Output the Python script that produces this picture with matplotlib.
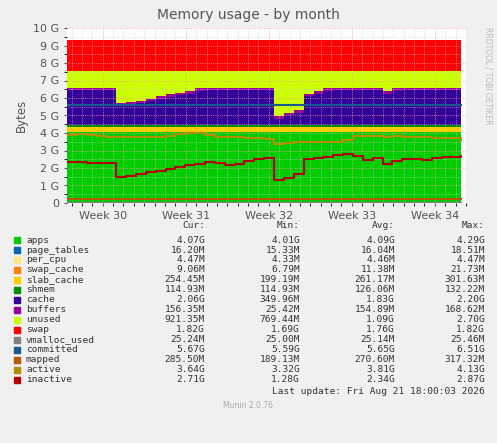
import matplotlib
matplotlib.use("Agg")
import matplotlib.pyplot as plt
import numpy as np

W, H = 497, 443
weeks = np.linspace(29.57, 34.32, 41)
cache_top = [6.6,6.6,6.6,6.6,6.6,5.7,5.75,5.85,5.95,6.1,6.2,6.3,6.4,6.55,6.6,6.6,6.6,6.6,6.6,6.6,6.6,
             4.95,5.15,5.3,6.25,6.4,6.55,6.6,6.6,6.6,6.6,6.6,6.4,6.55,6.6,6.6,6.6,6.6,6.6,6.6,6.6]
inactive = [2.35,2.35,2.3,2.3,2.3,1.5,1.55,1.65,1.75,1.85,1.95,2.05,2.15,2.25,2.35,2.3,2.15,2.25,2.4,2.5,2.55,
            1.3,1.45,1.65,2.5,2.55,2.65,2.75,2.8,2.7,2.45,2.55,2.25,2.4,2.5,2.5,2.45,2.55,2.6,2.6,2.7]
active = [3.9,3.95,3.9,3.85,3.8,3.8,3.8,3.8,3.8,3.8,3.85,3.95,4.0,4.0,3.9,3.8,3.75,3.8,3.7,3.7,3.65,
          3.4,3.45,3.5,3.5,3.5,3.5,3.5,3.6,3.85,3.85,3.85,3.8,3.85,3.8,3.8,3.75,3.7,3.7,3.7,3.6]
apps_v = 4.05
page_tables_v = 0.016
per_cpu_v = 0.004
swap_cache_v = 0.01
slab_v = 0.25
shmem_v = 0.115
buffers_v = 0.15
ram_total = 7.55
swap_v = 1.78
committed_v = 5.6
mapped_v = 0.25
vmalloc_v = 0.025

names = ["apps","page_tables","per_cpu","swap_cache","slab_cache","shmem","cache","buffers","unused","swap",
         "vmalloc_used","committed","mapped","active","inactive"]
colors = ["#00CC00","#0066B3","#FFE680","#FF8000","#FFCC00","#008F00","#330099","#990099","#CCFF00","#FF0000",
          "#808080","#1A5A90","#B35A00","#B38F00","#B30000"]
cur = ["4.07G","16.20M","4.47M","9.06M","254.45M","114.93M","2.06G","156.35M","921.35M","1.82G","25.24M","5.67G","285.50M","3.64G","2.71G"]
mn  = ["4.01G","15.33M","4.33M","6.79M","199.19M","114.93M","349.96M","25.42M","769.44M","1.69G","25.00M","5.59G","189.13M","3.32G","1.28G"]
avg = ["4.09G","16.04M","4.46M","11.38M","261.17M","126.06M","1.83G","154.89M","1.09G","1.76G","25.14M","5.65G","270.60M","3.81G","2.34G"]
mx  = ["4.29G","18.51M","4.47M","21.73M","301.63M","132.22M","2.20G","168.62M","2.70G","1.82G","25.46M","6.51G","317.32M","4.13G","2.87G"]

n = len(weeks)
ct = np.array(cache_top)
base_vals = [apps_v, page_tables_v, per_cpu_v, swap_cache_v, slab_v, shmem_v]
cache = ct - sum(base_vals) - buffers_v
layers = [np.full(n, v) for v in base_vals] + [cache, np.full(n, buffers_v), ram_total - ct, np.full(n, swap_v)]

fig = plt.figure(figsize=(W/100, H/100), dpi=100, facecolor="#F0F0F0")
ax = fig.add_axes([67/W, (H-203)/H, (466-67)/W, 175/H])
ax.set_facecolor("white")
ax.stackplot(weeks, *layers, colors=colors[:10], step="post", linewidth=0)
ax.set_xlim(weeks[0], weeks[-1])
ax.set_ylim(0, 10)
ax.set_yticks(range(11))
ax.set_yticklabels(["0"] + [f"{i} G" for i in range(1, 11)])
ax.set_xticks([30, 31, 32, 33, 34])
ax.set_xticklabels([f"Week {w}" for w in range(30, 35)])
ax.set_xticks(np.arange(29.625, 34.4, 0.125), minor=True)
ax.set_yticks(np.arange(0, 10, 0.5), minor=True)
ax.grid(True, which="major", color="#FF9999", ls=":", lw=0.6, zorder=2)
ax.grid(True, which="minor", color="#CCCCCC", ls=":", lw=0.5, zorder=2)
ax.set_axisbelow(False)
for v, c in [(np.full(n, vmalloc_v), colors[10]), (np.full(n, committed_v), colors[11]),
             (np.full(n, mapped_v), colors[12]), (np.array(active), colors[13]), (np.array(inactive), colors[14])]:
    ax.step(weeks, v, where="post", color=c, lw=1.5, zorder=5)
for s in ax.spines.values():
    s.set_visible(False)
ax.tick_params(labelsize=8, colors="#555555", length=2)
ax.set_ylabel("Bytes", fontsize=8.5, color="#555555")
fig.text(0.5, 1-15/H, "Memory usage - by month", ha="center", va="center", fontsize=10, color="#555555")
fig.text(488/W, 0.83, "RRDTOOL / TOBI OETIKER", rotation=270, fontsize=5.5, color="#BBBBBB", ha="center", va="center")

mono = "DejaVu Sans Mono"
fs = 6.8
for xr, lab in [(205, "Cur:"), (300, "Min:"), (395, "Avg:"), (485, "Max:")]:
    fig.text(xr/W, 1-226/H, lab, ha="right", va="center", fontsize=fs, family=mono, color="#333333")
for i, nm in enumerate(names):
    y = 1-(240+10*i)/H
    fig.patches.append(plt.Rectangle((14/W, y-3/H), 6/W, 6/H, transform=fig.transFigure, color=colors[i]))
    fig.text(26/W, y, nm, va="center", fontsize=fs, family=mono, color="#333333")
    for xr, col in [(205, cur), (300, mn), (395, avg), (485, mx)]:
        fig.text(xr/W, y, col[i], ha="right", va="center", fontsize=fs, family=mono, color="#333333")
fig.text(485/W, 1-391/H, "Last update: Fri Aug 21 18:00:03 2026", ha="right", va="center", fontsize=fs, family=mono, color="#333333")
fig.text(248/W, 1-405/H, "Munin 2.0.76", ha="center", va="center", fontsize=5.5, color="#AAAAAA")
fig.savefig("out.png", dpi=100, facecolor=fig.get_facecolor())
